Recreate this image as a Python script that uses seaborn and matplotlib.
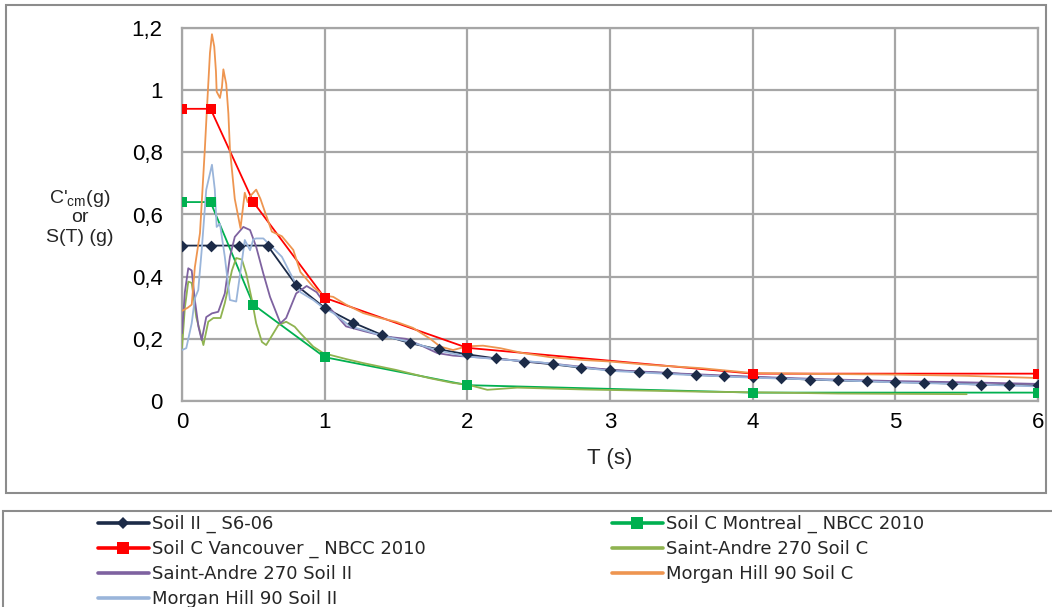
import numpy as np
import pandas as pd
import matplotlib
matplotlib.use("Agg")
import matplotlib.pyplot as plt
from matplotlib.patches import Rectangle
from matplotlib.lines import Line2D
from matplotlib.ticker import FuncFormatter
import seaborn as sns

# ---------------- data ----------------
s6_T = [0, 0.2, 0.4, 0.6, 0.8, 1.0, 1.2, 1.4, 1.6, 1.8, 2.0, 2.2, 2.4, 2.6, 2.8, 3.0,
        3.2, 3.4, 3.6, 3.8, 4.0, 4.2, 4.4, 4.6, 4.8, 5.0, 5.2, 5.4, 5.6, 5.8, 6.0]
s6_v = [0.5, 0.5, 0.5, 0.5, 0.373, 0.30, 0.252, 0.213, 0.186, 0.166, 0.150, 0.137, 0.127,
        0.118, 0.107, 0.100, 0.094, 0.090, 0.084, 0.080, 0.077, 0.073, 0.069, 0.066,
        0.064, 0.061, 0.059, 0.056, 0.053, 0.051, 0.050]

nbcc_T = [0, 0.2, 0.5, 1.0, 2.0, 4.0, 6.0]
mtl_v = [0.64, 0.64, 0.31, 0.141, 0.051, 0.027, 0.027]
van_v = [0.94, 0.94, 0.64, 0.332, 0.171, 0.088, 0.088]

sac_T = [0, 0.02, 0.044, 0.068, 0.1, 0.15, 0.184, 0.22, 0.27, 0.3, 0.35, 0.38, 0.42, 0.45,
         0.49, 0.52, 0.56, 0.59, 0.63, 0.675, 0.73, 0.79, 0.83, 0.92, 0.99, 1.15, 1.27,
         1.5, 1.74, 1.9, 2.0, 2.14, 2.35, 2.82, 3.64, 4.0, 4.6, 5.5]
sac_v = [0.17, 0.30, 0.384, 0.38, 0.27, 0.18, 0.255, 0.267, 0.267, 0.315, 0.42, 0.46, 0.455,
         0.41, 0.325, 0.25, 0.19, 0.18, 0.21, 0.244, 0.255, 0.239, 0.218, 0.175, 0.154,
         0.135, 0.122, 0.10, 0.073, 0.058, 0.053, 0.036, 0.043, 0.037, 0.030, 0.028,
         0.024, 0.022]

saii_T = [0, 0.02, 0.044, 0.068, 0.09, 0.115, 0.138, 0.17, 0.21, 0.254, 0.3, 0.336, 0.37,
          0.43, 0.477, 0.52, 0.57, 0.617, 0.69, 0.73, 0.80, 0.874, 0.944, 0.99, 1.06, 1.15,
          1.2, 1.29, 1.43, 1.57, 1.67, 1.79, 1.9, 2.09, 2.3, 2.6, 3.0, 3.5, 4.0, 4.5, 5.0,
          5.5, 6.0]
saii_v = [0.218, 0.35, 0.427, 0.42, 0.325, 0.24, 0.196, 0.27, 0.282, 0.287, 0.346, 0.464,
          0.528, 0.56, 0.55, 0.496, 0.41, 0.335, 0.25, 0.267, 0.346, 0.37, 0.35, 0.32,
          0.287, 0.24, 0.234, 0.223, 0.207, 0.20, 0.18, 0.154, 0.146, 0.14, 0.132, 0.12,
          0.10, 0.088, 0.078, 0.070, 0.064, 0.060, 0.055]

mhc_T = [0, 0.04, 0.068, 0.09, 0.126, 0.16, 0.173, 0.196, 0.21, 0.226, 0.238, 0.243, 0.266,
         0.28, 0.29, 0.30, 0.31, 0.325, 0.336, 0.37, 0.41, 0.44, 0.46, 0.48, 0.52, 0.55,
         0.58, 0.63, 0.70, 0.78, 0.83, 0.92, 0.99, 1.06, 1.15, 1.27, 1.39, 1.5, 1.62, 1.74,
         1.81, 1.9, 2.0, 2.11, 2.23, 2.39, 2.58, 2.81, 3.0, 3.28, 3.63, 4.0, 4.5, 5.0,
         5.5, 6.0]
mhc_v = [0.29, 0.30, 0.31, 0.43, 0.54, 0.81, 0.925, 1.12, 1.18, 1.14, 1.06, 0.995, 0.975,
         1.01, 1.067, 1.043, 1.02, 0.925, 0.81, 0.65, 0.556, 0.67, 0.64, 0.66, 0.68, 0.65,
         0.61, 0.545, 0.53, 0.486, 0.415, 0.367, 0.34, 0.335, 0.31, 0.283, 0.267, 0.255,
         0.235, 0.20, 0.175, 0.164, 0.176, 0.178, 0.17, 0.154, 0.141, 0.132, 0.127, 0.116,
         0.106, 0.090, 0.087, 0.085, 0.081, 0.074]

mhii_T = [0, 0.03, 0.068, 0.09, 0.114, 0.138, 0.17, 0.21, 0.23, 0.243, 0.266, 0.3, 0.336,
          0.38, 0.418, 0.44, 0.477, 0.5, 0.52, 0.57, 0.63, 0.70, 0.76, 0.83, 0.92, 0.99,
          1.06, 1.18, 1.3, 1.4, 1.6, 1.8, 2.0, 2.2, 2.5, 3.0, 3.5, 4.0, 4.5, 5.0, 5.5, 6.0]
mhii_v = [0.164, 0.17, 0.25, 0.33, 0.357, 0.485, 0.68, 0.76, 0.68, 0.56, 0.57, 0.464, 0.325,
          0.32, 0.443, 0.518, 0.485, 0.52, 0.523, 0.523, 0.496, 0.464, 0.41, 0.35, 0.325,
          0.30, 0.283, 0.24, 0.225, 0.21, 0.19, 0.162, 0.143, 0.135, 0.125, 0.097, 0.085,
          0.075, 0.068, 0.060, 0.054, 0.047]

x_ticks = [0, 1, 2, 3, 4, 5, 6]
y_ticks = [0, 0.2, 0.4, 0.6, 0.8, 1.0, 1.2]

# ---------------- style ----------------
sns.set_theme(style="white")
plt.rcParams["font.family"] = ["Liberation Sans", "DejaVu Sans"]
plt.rcParams["mathtext.fontset"] = "custom"
plt.rcParams["mathtext.rm"] = "Liberation Sans"
plt.rcParams["mathtext.it"] = "Liberation Sans"

fig = plt.figure(figsize=(10.52, 6.07), dpi=100)
W, H = 1052, 607
ax = fig.add_axes([182 / W, 1 - 401 / H, (1038 - 182) / W, (401 - 28) / H])

c_s6 = "#1C2B48"
c_mtl = "#00B050"
c_van = "#FF0000"
c_sac = "#8FB350"
c_saii = "#7E62A0"
c_mhc = "#EE9550"
c_mhii = "#9AB5DA"

def df(T, v):
    return pd.DataFrame({"T": T, "v": v})

# design spectra (lines)
sns.lineplot(data=df(s6_T, s6_v), x="T", y="v", ax=ax, color=c_s6, lw=1.3,
             sort=False, estimator=None, zorder=2, legend=False)
sns.lineplot(data=df(nbcc_T, mtl_v), x="T", y="v", ax=ax, color=c_mtl, lw=1.3,
             sort=False, estimator=None, zorder=2, legend=False)
sns.lineplot(data=df(nbcc_T, van_v), x="T", y="v", ax=ax, color=c_van, lw=1.3,
             sort=False, estimator=None, zorder=2, legend=False)
# records
sns.lineplot(data=df(sac_T, sac_v), x="T", y="v", ax=ax, color=c_sac, lw=1.3, sort=False,
             estimator=None, zorder=3, legend=False)
sns.lineplot(data=df(saii_T, saii_v), x="T", y="v", ax=ax, color=c_saii, lw=1.3, sort=False,
             estimator=None, zorder=3, legend=False)
sns.lineplot(data=df(mhc_T, mhc_v), x="T", y="v", ax=ax, color=c_mhc, lw=1.3, sort=False,
             estimator=None, zorder=3, legend=False)
sns.lineplot(data=df(mhii_T, mhii_v), x="T", y="v", ax=ax, color=c_mhii, lw=1.3, sort=False,
             estimator=None, zorder=3, legend=False)
# markers on top
sns.scatterplot(data=df(s6_T, s6_v), x="T", y="v", ax=ax, color=c_s6, marker="D", s=36,
                linewidth=0, zorder=4, legend=False)
sns.scatterplot(data=df(nbcc_T, mtl_v), x="T", y="v", ax=ax, color=c_mtl, marker="s", s=49,
                linewidth=0, zorder=4, legend=False)
sns.scatterplot(data=df(nbcc_T, van_v), x="T", y="v", ax=ax, color=c_van, marker="s", s=49,
                linewidth=0, zorder=4, legend=False)

ax.set_xlim(0, 6)
ax.set_ylim(0, 1.2)
ax.set_xticks(x_ticks)
ax.set_yticks(y_ticks)
fmt = FuncFormatter(lambda v, p: ("%g" % round(v, 1)).replace(".", ","))
ax.xaxis.set_major_formatter(fmt)
ax.yaxis.set_major_formatter(fmt)
ax.grid(True, color="#A6A6A6", lw=1.6)
ax.set_axisbelow(True)
for s in ax.spines.values():
    s.set_color("#A6A6A6")
    s.set_linewidth(1.6)
ax.tick_params(axis="both", length=0, labelsize=16, colors="#000000")
ax.tick_params(axis="y", pad=14)
ax.tick_params(axis="x", pad=8)
ax.set_xlabel("T (s)", fontsize=16, labelpad=11)
ax.set_ylabel("")

# y label (three stacked lines)
fig.text(80 / W, 1 - 203 / H, "C'$_{\\mathrm{cm}}$(g)", ha="center", va="baseline",
         fontsize=14)
fig.text(80 / W, 1 - 222 / H, "or", ha="center", va="baseline", fontsize=14)
fig.text(80 / W, 1 - 242 / H, "S(T) (g)", ha="center", va="baseline", fontsize=14)

# chart frame and legend frame
fig.add_artist(Rectangle((6 / W, 1 - 493 / H), 1040 / W, 488 / H, transform=fig.transFigure,
                         fill=False, ec="#8C8C8C", lw=1.5))
fig.add_artist(Rectangle((3 / W, -0.05), 1.2, 1 - 511 / H + 0.05, transform=fig.transFigure,
                         fill=False, ec="#8C8C8C", lw=1.5))

def h(color, marker=None, ms=0):
    return Line2D([], [], color=color, lw=2.6, marker=marker, markersize=ms,
                  markeredgewidth=0)

col1 = ["Soil II _ S6-06", "Soil C Vancouver _ NBCC 2010", "Saint-Andre 270 Soil II",
        "Morgan Hill 90 Soil II"]
col1_h = [h(c_s6, "D", 6), h(c_van, "s", 8), h(c_saii), h(c_mhii)]
col2 = ["Soil C Montreal _ NBCC 2010", "Saint-Andre 270 Soil C", "Morgan Hill 90 Soil C"]
col2_h = [h(c_mtl, "s", 8), h(c_sac), h(c_mhc)]
common = dict(frameon=False, prop={"family": "DejaVu Sans", "size": 13},
              handlelength=2.8, handletextpad=0.2, labelspacing=0.38, borderpad=0,
              borderaxespad=0)
fig.legend(col1_h, col1, loc="upper left", bbox_to_anchor=(98 / W, 1 - 515 / H), **common)
fig.legend(col2_h, col2, loc="upper left", bbox_to_anchor=(612 / W, 1 - 515 / H), **common)

fig.savefig("out.png", dpi=100)
